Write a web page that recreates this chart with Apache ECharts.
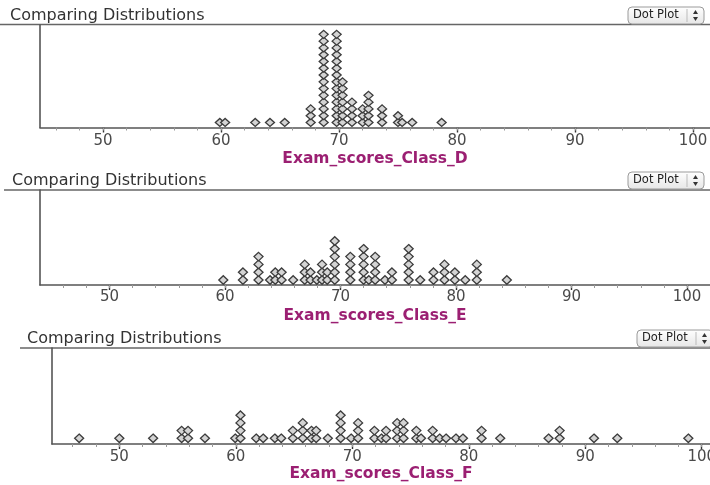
<!DOCTYPE html>
<html>
<head>
<meta charset="utf-8">
<script src="https://cdn.jsdelivr.net/npm/echarts@6/dist/echarts.min.js"></script>
<style>
  html, body { margin: 0; padding: 0; background: #fff; }
  #chart { width: 710px; height: 485px; }
</style>
</head>
<body>
<div id="chart"></div>
<script>
// Axis tick values shared by the three dot plots
const tickLabels = [50, 60, 70, 80, 90, 100];
const minorTickValues = [46, 48, 50, 52, 54, 56, 58, 60, 62, 64, 66, 68, 70, 72, 74, 76, 78, 80, 82, 84, 86, 88, 90, 92, 94, 96, 98, 100];

const headerText = 'Comparing Distributions';
const buttonText = 'Dot Plot';
const attributeNames = ['Exam_scores_Class_D', 'Exam_scores_Class_E', 'Exam_scores_Class_F'];

// Class D: each score and how many students got it
const scoresD = [59.9, 60.35, 62.9, 64.15, 65.4, 67.6, 68.7, 69.8, 70.3, 71.1, 72.0, 72.5, 73.65, 75.0, 75.35, 76.2, 78.7];
const countsD = [1, 1, 1, 1, 1, 3, 14, 14, 7, 4, 3, 5, 3, 2, 1, 1, 1];

// Class E
const scoresE = [59.85, 61.55, 62.9, 63.9, 64.35, 64.9, 65.9, 66.9, 67.4, 67.95, 68.4, 68.85, 69.5, 70.85, 72.0, 72.45, 73.0, 73.85, 74.45, 75.9, 76.9, 78.05, 79.0, 79.9, 80.8, 81.8, 84.4];
const countsE = [1, 2, 4, 1, 2, 2, 1, 3, 2, 1, 3, 2, 6, 4, 5, 1, 4, 1, 2, 5, 1, 2, 3, 2, 1, 3, 1];

// Class F
const scoresF = [46.55, 50.0, 52.9, 55.35, 55.9, 57.35, 59.95, 60.4, 61.75, 62.35, 63.35, 63.9, 64.9, 65.75, 66.5, 66.9, 67.9, 69.0, 69.9, 70.5, 71.9, 72.5, 72.9, 73.85, 74.4, 75.5, 75.9, 76.9, 77.5, 78.05, 78.9, 79.5, 81.1, 82.7, 86.85, 87.8, 90.75, 92.75, 98.85];
const countsF = [1, 1, 1, 2, 2, 1, 1, 4, 1, 1, 1, 1, 2, 3, 2, 2, 1, 4, 1, 3, 2, 1, 2, 3, 3, 2, 1, 2, 1, 1, 1, 1, 2, 1, 1, 2, 1, 1, 1];

// Panel geometry (pixels) and axis extents
const panels = [
  { scores: scoresD, counts: countsD, name: attributeNames[0],
    headerY: 24.5, headerX: 10, lineX0: 0, btnX: 628, btnY: 7,
    left: 40, top: 25, axisY: 127.5, xMin: 44.66, xMax: 101.44, yMax: 15.12, yOff: 0.74,
    labelMargin: 6, nameGap: 23, dot: [9, 8] },
  { scores: scoresE, counts: countsE, name: attributeNames[1],
    headerY: 190, headerX: 12, lineX0: 4, btnX: 628, btnY: 172,
    left: 40, top: 190, axisY: 285, xMin: 43.98, xMax: 101.99, yMax: 12.18, yOff: 0.64,
    labelMargin: 5, nameGap: 23, dot: [9, 8.5] },
  { scores: scoresF, counts: countsF, name: attributeNames[2],
    headerY: 348, headerX: 27, lineX0: 20, btnX: 637, btnY: 330,
    left: 52, top: 348, axisY: 444, xMin: 44.22, xMax: 100.71, yMax: 12.47, yOff: 0.74,
    labelMargin: 6, nameGap: 21, dot: [9, 8.5] }
];

const FONT = '"DejaVu Sans", Verdana, sans-serif';
const AXIS_COLOR = '#555';

const grids = [], xAxes = [], yAxes = [], series = [], graphics = [];

panels.forEach((p, i) => {
  grids.push({ left: p.left, top: p.top, width: 710 - p.left, height: p.axisY - p.top,
               containLabel: false, outerBoundsMode: 'none' });

  // main axis: line, long ticks, labels, attribute name
  xAxes.push({
    gridIndex: i, type: 'value', min: p.xMin, max: p.xMax,
    axisLine: { show: true, lineStyle: { color: AXIS_COLOR, width: 1.6 } },
    axisTick: { show: true, customValues: tickLabels, length: 5, lineStyle: { color: '#333', width: 1.4 } },
    axisLabel: { show: true, customValues: tickLabels, margin: p.labelMargin,
                 fontFamily: FONT, fontSize: 15, color: '#4a4a4a', hideOverlap: false },
    splitLine: { show: false },
    name: p.name, nameLocation: 'middle', nameGap: p.nameGap,
    nameTextStyle: { fontFamily: FONT, fontSize: 15.5, fontWeight: 'bold', color: '#9b1f72' }
  });
  // secondary axis carrying the short ticks every 2 units
  xAxes.push({
    gridIndex: i, type: 'value', min: p.xMin, max: p.xMax, position: 'bottom',
    axisLine: { show: false },
    axisTick: { show: true, customValues: minorTickValues, length: 3, lineStyle: { color: '#999', width: 1 } },
    axisLabel: { show: false },
    splitLine: { show: false }
  });

  yAxes.push({
    gridIndex: i, type: 'value', min: 0, max: p.yMax,
    axisLine: { show: true, lineStyle: { color: AXIS_COLOR, width: 1.6 } },
    axisTick: { show: false }, axisLabel: { show: false }, splitLine: { show: false }
  });

  // stack each score's dots upward
  const dots = [];
  p.scores.forEach((s, k) => {
    for (let n = 0; n < p.counts[k]; n++) dots.push([s, n + p.yOff]);
  });
  series.push({
    type: 'scatter', xAxisIndex: i * 2, yAxisIndex: i, data: dots,
    symbol: 'diamond', symbolSize: p.dot, silent: true,
    itemStyle: { color: '#d4d4d4', borderColor: '#3c3c3c', borderWidth: 1.3, opacity: 1 }
  });

  // panel header: title text, underline, and the plot-type popup button
  graphics.push({
    type: 'text', left: p.headerX, top: p.headerY - 17,
    style: { text: headerText, font: '16px ' + FONT, fill: '#333' }
  });
  graphics.push({
    type: 'line', shape: { x1: p.lineX0, y1: p.headerY, x2: 710, y2: p.headerY },
    style: { stroke: '#666', lineWidth: 1.3 }
  });
  const bw = 76, bh = 17, bx = p.btnX, by = p.btnY;
  graphics.push({
    type: 'rect', shape: { x: bx, y: by, width: bw, height: bh, r: 4 },
    style: { fill: new echarts.graphic.LinearGradient(0, 0, 0, 1,
              [{ offset: 0, color: '#ffffff' }, { offset: 1, color: '#e6e6e6' }]),
             stroke: '#9a9a9a', lineWidth: 1 }
  });
  graphics.push({
    type: 'text', x: bx + 5, y: by + bh / 2,
    style: { text: buttonText, font: '11.5px ' + FONT, fill: '#222', verticalAlign: 'middle' }
  });
  graphics.push({
    type: 'line', shape: { x1: bx + bw - 17, y1: by + 2, x2: bx + bw - 17, y2: by + bh - 2 },
    style: { stroke: '#bbb', lineWidth: 1 }
  });
  const ax = bx + bw - 8.5, ay = by + bh / 2;
  graphics.push({
    type: 'polygon', shape: { points: [[ax - 2.5, ay - 1.5], [ax + 2.5, ay - 1.5], [ax, ay - 5.5]] },
    style: { fill: '#333' }
  });
  graphics.push({
    type: 'polygon', shape: { points: [[ax - 2.5, ay + 1.5], [ax + 2.5, ay + 1.5], [ax, ay + 5.5]] },
    style: { fill: '#333' }
  });
});

const chart = echarts.init(document.getElementById('chart'), null, { renderer: 'canvas' });
chart.setOption({
  animation: false,
  backgroundColor: '#ffffff',
  grid: grids,
  xAxis: xAxes,
  yAxis: yAxes,
  series: series,
  graphic: graphics
});
</script>
</body>
</html>
